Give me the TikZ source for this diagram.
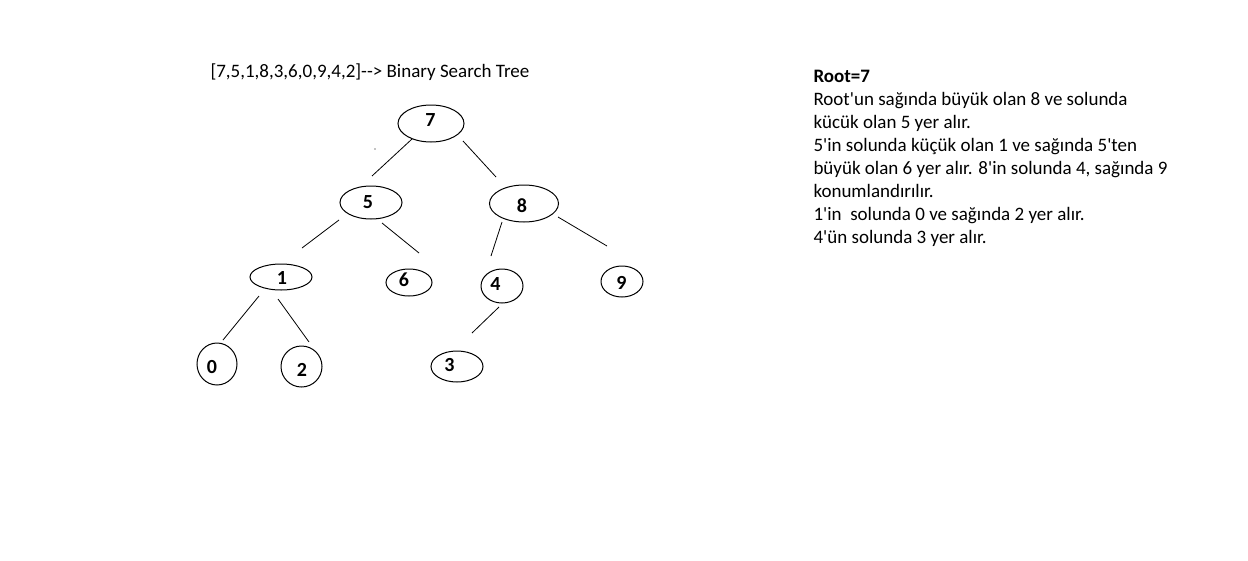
\documentclass[tikz,border=0pt]{standalone}
\usepackage{fontspec}
\setmainfont{Carlito}[Ligatures=TeXOff]
\usetikzlibrary{shapes.geometric}
\begin{document}
\begin{tikzpicture}[x=1pt,y=-1pt,line width=1pt,
  ell/.style={draw,ellipse,inner sep=0pt},
  num/.style={inner sep=0pt,font=\fontsize{20}{20}\selectfont\bfseries},
  txt/.style={inner sep=0pt,anchor=base west,font=\fontsize{19}{23}\selectfont},
  edge/.style={draw,line width=0.8pt}]
\useasboundingbox (0,0) rectangle (1248,560);
% ellipses
\node[ell,minimum width=66,minimum height=37] (n7) at (431,123.5) {};
\node[ell,minimum width=62,minimum height=33] (n5) at (371,202.5) {};
\node[ell,minimum width=69,minimum height=37] (n8) at (524,203.5) {};
\node[ell,minimum width=62,minimum height=26] (n1) at (281,277) {};
\node[ell,minimum width=46,minimum height=27] (n6) at (409,282.5) {};
\node[ell,minimum width=42,minimum height=34] (n4) at (502,286) {};
\node[ell,minimum width=42,minimum height=31] (n9) at (622,281.5) {};
\node[ell,minimum width=40,minimum height=42] (n0) at (217,364) {};
\node[ell,minimum width=41,minimum height=41] (n2) at (301.5,366.5) {};
\node[ell,minimum width=52,minimum height=31] (n3) at (457,366.5) {};
% labels
\node[num] (l7) at (430.5,120.5) {7};
\node[num] (l5) at (368,202) {5};
\node[num] (l8) at (522,205.5) {8};
\node[num] (l1) at (282,278.5) {1};
\node[num] (l6) at (404,280) {6};
\node[num] (l4) at (495.5,284) {4};
\node[num] (l9) at (621.5,283) {9};
\node[num] (l0) at (212,367) {0};
\node[num] (l2) at (302,370) {2};
\node[num] (l3) at (449.5,365) {3};
% connectors
\draw[edge] ([shift={(-19,15.5)}]n7.center) -- ([shift={(1,-26.5)}]n5.center);
\draw[edge] ([shift={(32,17.5)}]n7.center) -- ([shift={(-28,-26.5)}]n8.center);
\draw[edge] ([shift={(-32,17.5)}]n5.center) -- ([shift={(21,-29)}]n1.center);
\draw[edge] ([shift={(11,20.5)}]n5.center) -- ([shift={(10,-29.5)}]n6.center);
\draw[edge] ([shift={(-22,18.5)}]n8.center) -- ([shift={(-11,-30)}]n4.center);
\draw[edge] ([shift={(34,13.5)}]n8.center) -- ([shift={(-15,-35.5)}]n9.center);
\draw[edge] ([shift={(-22,19)}]n1.center) -- ([shift={(6,-24)}]n0.center);
\draw[edge] ([shift={(-3,22)}]n1.center) -- ([shift={(7.5,-24.5)}]n2.center);
\draw[edge] ([shift={(-3,21)}]n4.center) -- ([shift={(15,-33.5)}]n3.center);
\fill (375,149) circle (0.6);
% title
\node[txt] (title) at (210,77) {[7,5,1,8,3,6,0,9,4,2]--> Binary Search Tree};
% explanation
\node[txt,font=\fontsize{19}{23}\selectfont\bfseries] (t1) at (813,82) {Root=7};
\node[txt] (t2) at (813,105) {Root'un sağında büyük olan 8 ve solunda};
\node[txt] (t3) at (813,128) {kücük olan 5 yer alır.};
\node[txt] (t4) at (813,151) {5'in solunda küçük olan 1 ve sağında 5'ten};
\node[txt] (t5) at (813,174) {büyük olan 6 yer alır. 8'in solunda 4, sağında 9};
\node[txt] (t6) at (813,197) {konumlandırılır.};
\node[txt] (t7) at (813,220) {1'in \ solunda 0 ve sağında 2 yer alır.};
\node[txt] (t8) at (813,243) {4'ün solunda 3 yer alır.};
\end{tikzpicture}
\end{document}
